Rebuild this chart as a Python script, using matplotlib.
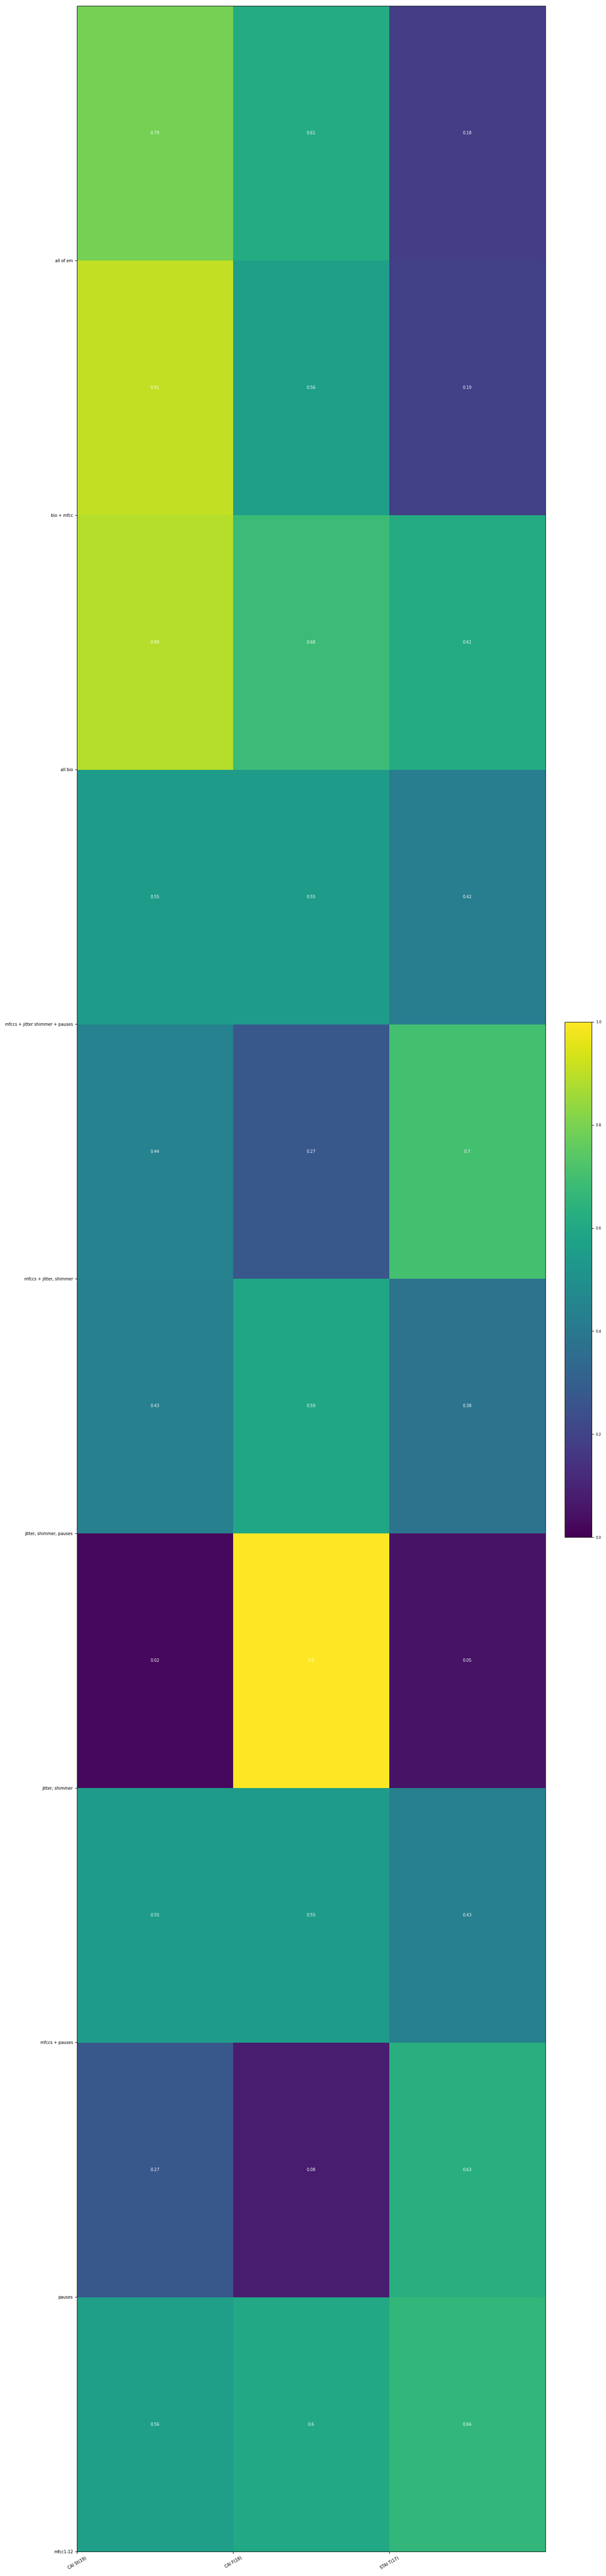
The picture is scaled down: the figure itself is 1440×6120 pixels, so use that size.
import numpy as np
import matplotlib
matplotlib.use("Agg")
import matplotlib.pyplot as plt

# feature sets, bottom row first (pcolor draws from y=0 upward)
feature_sets = ['mfcc1-12', 'pauses', 'mfccs + pauses', 'jitter, shimmer',
                'jitter, shimmer, pauses', 'mfccs + jitter, shimmer',
                'mfccs + jitter shimmer + pauses', 'all bio', 'bio + mfcc', 'all of em']
scales = ['CAI St(19)', 'CAI F(18)', 'STAI T(17)']

# scores per feature set (same order as feature_sets)
cai_st = [0.56, 0.27, 0.55, 0.02, 0.43, 0.44, 0.55, 0.89, 0.91, 0.79]
cai_f = [0.60, 0.08, 0.55, 1.00, 0.59, 0.27, 0.55, 0.68, 0.56, 0.61]
stai_t = [0.66, 0.63, 0.43, 0.05, 0.38, 0.70, 0.42, 0.61, 0.19, 0.18]

data = np.column_stack([cai_st, cai_f, stai_t])

fig = plt.figure(figsize=(14.4, 61.2), dpi=100)
ax = fig.add_axes([183 / 1440, 58 / 6120, 1113 / 1440, 6048 / 6120])
cax = fig.add_axes([1342 / 1440, (6120 - 3652) / 6120, 64 / 1440, 1224 / 6120])

im = ax.pcolor(data, cmap='viridis', vmin=0, vmax=1)

# value labels in the middle of each cell
for i in range(data.shape[0]):
    for j in range(data.shape[1]):
        ax.text(j + 0.5, i + 0.5, round(data[i, j], 2), ha='center', va='center',
                color='white', fontsize=7)

ax.set_yticks(np.arange(len(feature_sets)))
ax.set_yticklabels(feature_sets, fontsize=7)
ax.set_xticks(np.arange(len(scales)))
ax.set_xticklabels(scales, rotation=30, ha='center', fontsize=7)

cb = fig.colorbar(im, cax=cax)
cb.set_ticks([0.0, 0.2, 0.4, 0.6, 0.8, 1.0])
cb.ax.tick_params(labelsize=6)

fig.savefig('out.png', dpi=100)
